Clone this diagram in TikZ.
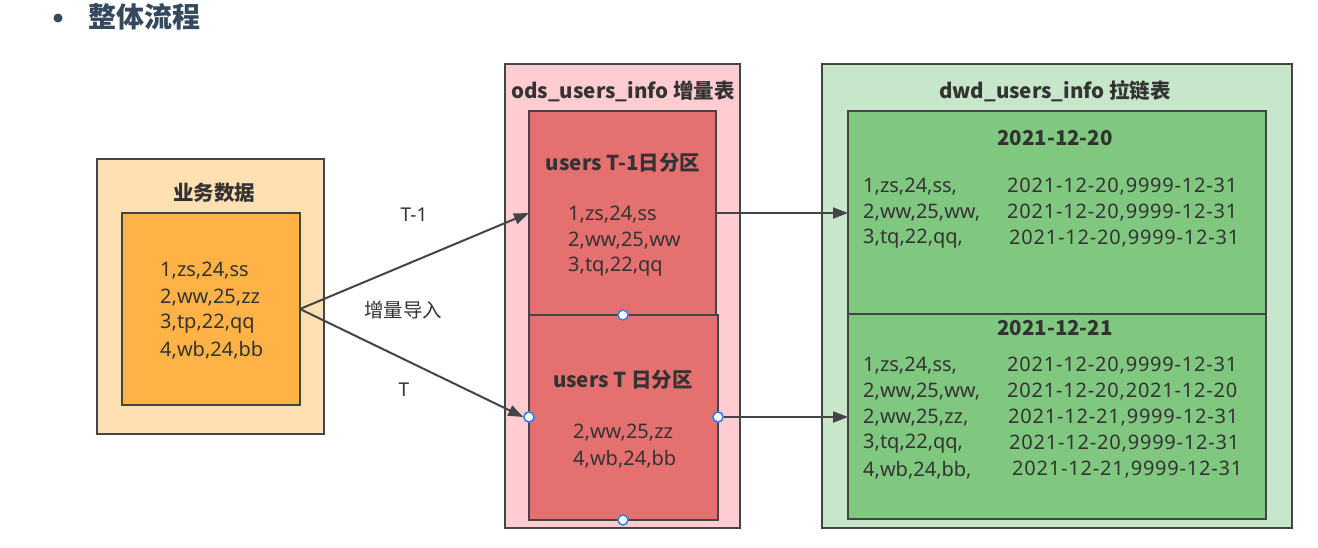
\documentclass[tikz,border=0pt]{standalone}
\usepackage{fontspec}
\setmainfont{Noto Sans}
\newfontfamily\cjk{Noto Sans CJK SC}
\usetikzlibrary{arrows.meta}
\definecolor{peach}{RGB}{255,224,178}
\definecolor{orangebox}{RGB}{255,179,71}
\definecolor{pinkout}{RGB}{255,204,210}
\definecolor{redin}{RGB}{228,112,112}
\definecolor{greenout}{RGB}{200,230,201}
\definecolor{greenin}{RGB}{128,199,128}
\definecolor{edge}{RGB}{68,68,68}
\definecolor{txt}{RGB}{51,51,51}
\definecolor{titlec}{RGB}{52,73,94}
\definecolor{handle}{RGB}{50,130,230}
\newcommand{\dts}[1]{{\addfontfeature{LetterSpace=4}#1}}
\tikzset{
  box/.style={draw=edge, line width=2pt},
  ttl/.style={font=\fontsize{20.5}{24}\selectfont\cjk\bfseries, text=txt, inner sep=0pt},
  dat/.style={font=\fontsize{20}{26}\selectfont, text=txt, inner sep=0pt, anchor=west},
  lbl/.style={font=\fontsize{19}{22}\selectfont, text=txt, inner sep=0pt},
  conn/.style={draw=edge, line width=2pt, -{Triangle[length=15pt,width=11pt]}},
  hdl/.style={circle, draw=handle, fill=white, line width=1.5pt, minimum size=10pt, inner sep=0pt},
}
\begin{document}
\begin{tikzpicture}[x=1pt,y=-1pt]
\useasboundingbox (0,0) rectangle (1318,547);
% heading
\fill[titlec] (58,18) circle (4.5pt);
\node[font=\fontsize{28}{31}\selectfont\cjk\bfseries, text=titlec, anchor=west, inner sep=0pt] (head) at (88,17) {整体流程};
% left
\draw[box, fill=peach] (97,159) rectangle (324,434);
\node[ttl] (bizt) at (214,193) {业务数据};
\draw[box, fill=orangebox] (122,213) rectangle (300,405);
\coordinate (bizR) at (300,309);
\node[dat] (bz1) at (160,271) {1,zs,24,ss};
\node[dat] (bz2) at (160,298) {2,ww,25,zz};
\node[dat] (bz3) at (160,324) {3,tp,22,qq};
\node[dat] (bz4) at (160,350) {4,wb,24,bb};
% middle
\draw[box, fill=pinkout] (505,64) rectangle (740,528);
\node[ttl] (odst) at (623,91) {ods\_users\_info 增量表};
\draw[box, fill=redin] (529,111) rectangle (716,315);
\node[ttl] (t1t) at (623,163) {users T-1日分区};
\node[dat] (t11) at (568,215) {1,zs,24,ss};
\node[dat] (t12) at (568,241) {2,ww,25,ww};
\node[dat] (t13) at (568,267) {3,tq,22,qq};
\draw[box, fill=redin] (529,315) rectangle (718,520);
\node[ttl] (t0t) at (623,380) {users T 日分区};
\node[dat] (t01) at (573,433) {2,ww,25,zz};
\node[dat] (t02) at (573,459) {4,wb,24,bb};
\coordinate (t1L) at (529,213);
\coordinate (t1R) at (716,213);
% right
\draw[box, fill=greenout] (822,64) rectangle (1292,528);
\node[ttl] (dwdt) at (1055,91) {dwd\_users\_info 拉链表};
\draw[box, fill=greenin] (848,111) rectangle (1266,314);
\node[ttl] (d20) at (1055,138) {2021-12-20};
\draw[box, fill=greenin] (848,314) rectangle (1266,519);
\node[ttl] (d21) at (1055,328) {2021-12-21};
\coordinate (g1L) at (848,213);
\coordinate (g2L) at (848,417);
% top green rows
\node[dat] (a1) at (863,187) {1,zs,24,ss,};
\node[dat] (a2) at (863,213) {2,ww,25,ww,};
\node[dat] (a3) at (863,239) {3,tq,22,qq,};
\node[dat] (b1) at (1007,187) {\dts{2021-12-20,9999-12-31}};
\node[dat] (b2) at (1007,213) {\dts{2021-12-20,9999-12-31}};
\node[dat] (b3) at (1009,239) {\dts{2021-12-20,9999-12-31}};
% bottom green rows
\node[dat] (c1) at (863,366) {1,zs,24,ss,};
\node[dat] (c2) at (863,392) {2,ww,25,ww,};
\node[dat] (c3) at (863,418) {2,ww,25,zz,};
\node[dat] (c4) at (863,444) {3,tq,22,qq,};
\node[dat] (c5) at (863,470) {4,wb,24,bb,};
\node[dat] (e1) at (1007,366) {\dts{2021-12-20,9999-12-31}};
\node[dat] (e2) at (1007,392) {\dts{2021-12-20,2021-12-20}};
\node[dat] (e3) at (1008,418) {\dts{2021-12-21,9999-12-31}};
\node[dat] (e4) at (1009,444) {\dts{2021-12-20,9999-12-31}};
\node[dat] (e5) at (1012,470) {\dts{2021-12-21,9999-12-31}};
% handles
\node[hdl] (h1) at (623,315) {};
\node[hdl] (h2) at (529,417) {};
\node[hdl] (h3) at (718,417) {};
\node[hdl] (h4) at (623,520) {};
% connectors
\draw[conn] (bizR) -- (t1L);
\draw[conn] (bizR) -- (h2.west);
\draw[conn] (t1R) -- (g1L);
\draw[conn] (h3.east) -- (g2L);
\node[hdl] at (h2) {};
\node[hdl] at (h3) {};
% labels
\node[lbl] (lt1) at (414,215) {T-1};
\node[lbl, font=\fontsize{19.5}{22}\selectfont\cjk] (linc) at (403,310) {增量导入};
\node[lbl] (lt0) at (404,390) {T};
\end{tikzpicture}
\end{document}
